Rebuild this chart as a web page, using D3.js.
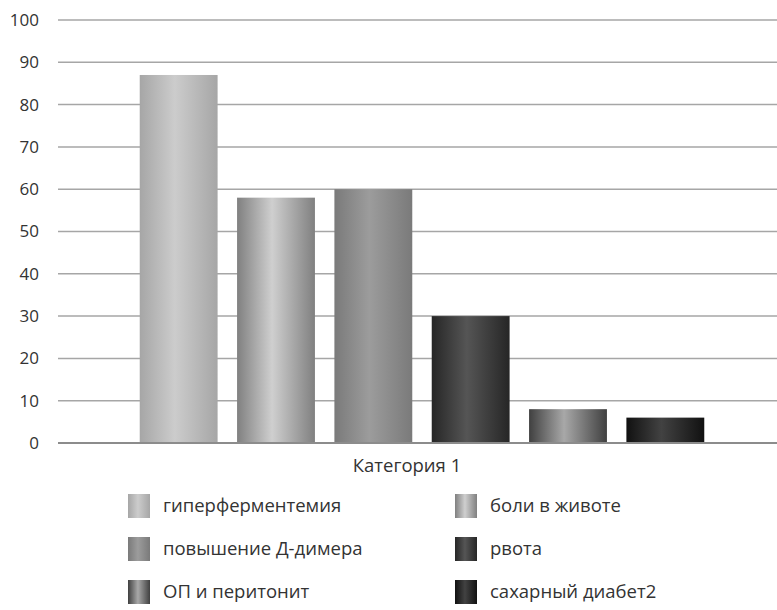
<!DOCTYPE html>
<html>
<head>
<meta charset="utf-8">
<script src="https://cdn.jsdelivr.net/npm/d3@7"></script>
<style>
  html, body { margin: 0; padding: 0; background: #fff; }
  svg text { font-family: "Open Sans", "Noto Sans", sans-serif; fill: #333; }
</style>
</head>
<body>
<div id="chart"></div>
<script>
// data
const category = "Категория 1";
const seriesNames = ["гиперферментемия", "боли в животе", "повышение Д-димера", "рвота", "ОП и перитонит", "сахарный диабет2"];
const seriesValues = [87, 58, 60, 30, 8, 6];
const yTicks = [0, 10, 20, 30, 40, 50, 60, 70, 80, 90, 100];
// gradient edge / centre greys for each series
const edgeColors = ["#a6a6a6", "#808080", "#7a7a7a", "#262626", "#404040", "#111111"];
const midColors = ["#cccccc", "#cfcfcf", "#9c9c9c", "#555555", "#a8a8a8", "#424242"];

const width = 777, height = 610;

const svg = d3.select("#chart").append("svg")
  .attr("width", width)
  .attr("height", height);

const defs = svg.append("defs");
seriesNames.forEach((name, i) => {
  const g = defs.append("linearGradient")
    .attr("id", "grad" + i)
    .attr("x1", "0%").attr("x2", "100%")
    .attr("y1", "0%").attr("y2", "0%");
  g.append("stop").attr("offset", "0%").attr("stop-color", edgeColors[i]);
  g.append("stop").attr("offset", "45%").attr("stop-color", midColors[i]);
  g.append("stop").attr("offset", "100%").attr("stop-color", edgeColors[i]);
});

const y = d3.scaleLinear().domain([0, 100]).range([443, 20]);
const x = d3.scaleBand()
  .domain(seriesNames)
  .range([130, 714])
  .paddingInner(0.2)
  .paddingOuter(0.1);

// gridlines
svg.append("g")
  .selectAll("line")
  .data(yTicks)
  .join("line")
  .attr("x1", 58)
  .attr("x2", width)
  .attr("y1", d => y(d))
  .attr("y2", d => y(d))
  .attr("stroke", d => d === 0 ? "#8c8c8c" : "#a6a6a6")
  .attr("stroke-width", d => d === 0 ? 2 : 1.5);

// y tick labels
svg.append("g")
  .selectAll("text")
  .data(yTicks)
  .join("text")
  .attr("x", 39)
  .attr("y", d => y(d))
  .attr("dy", "0.35em")
  .attr("text-anchor", "end")
  .style("font-size", "17px")
  .text(d => d);

// bars
svg.append("g")
  .selectAll("rect")
  .data(seriesValues)
  .join("rect")
  .attr("x", (d, i) => x(seriesNames[i]))
  .attr("width", x.bandwidth())
  .attr("y", d => y(d))
  .attr("height", d => y(0) - y(d))
  .attr("fill", (d, i) => `url(#grad${i})`);

// redraw baseline on top of bars
svg.append("line")
  .attr("x1", 58).attr("x2", width)
  .attr("y1", y(0)).attr("y2", y(0))
  .attr("stroke", "#8c8c8c")
  .attr("stroke-width", 2);

// category label
svg.append("text")
  .attr("x", 407)
  .attr("y", 466)
  .attr("dy", "0.35em")
  .attr("text-anchor", "middle")
  .style("font-size", "18.5px")
  .text(category);

// legend, two columns
const legend = svg.append("g")
  .selectAll("g")
  .data(seriesNames)
  .join("g")
  .attr("transform", (d, i) => `translate(${i % 2 === 0 ? 128 : 455},${494 + Math.floor(i / 2) * 43})`);

legend.append("rect")
  .attr("width", 22)
  .attr("height", 24)
  .attr("fill", (d, i) => `url(#grad${i})`);

legend.append("text")
  .attr("x", 35)
  .attr("y", 12)
  .attr("dy", "0.35em")
  .style("font-size", "18.5px")
  .text(d => d);
</script>
</body>
</html>
